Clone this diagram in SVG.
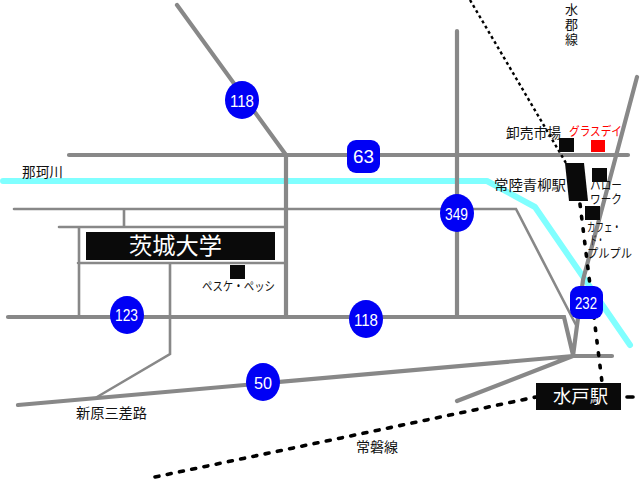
<svg xmlns="http://www.w3.org/2000/svg" width="640" height="479" viewBox="0 0 640 479">
<style>
text{font-family:"Noto Sans CJK JP","Liberation Sans",sans-serif;font-size:14px;fill:#111}
.s{font-size:12.5px}
.n{font-family:"Liberation Sans",sans-serif;fill:#fff;font-size:17px}
.r{fill:none;stroke:#888;stroke-linecap:round;stroke-linejoin:miter}
.w{stroke-width:4.2}.m{stroke-width:2.6}
.b{fill:#0000f5}.k{fill:#0a0a0a}
.t{fill:none;stroke:#000;stroke-width:3.6;stroke-linecap:round}
</style>
<rect width="640" height="479" fill="#fff"/>
<g id="connectors">
<path d="M3 181H487L535 207L630 345" fill="none" stroke="#80ffff" stroke-width="6" stroke-linecap="round" stroke-linejoin="round"/>
<path class="r w" d="M177 5L286 155V316M69 155H628M457 31V316M8 317H564L573 355M18 405L573 356H612M457 401L573 356L583 280L637 77"/>
<path class="r m" d="M14 209H516L576 325M124 209V226M59 227H286M79 228V316M78 263H286M170 263V354L97 397"/>
<path d="M470 0L566 163" fill="none" stroke="#000" stroke-width="2.4" stroke-dasharray="3 3"/>
<path class="t" d="M580 204L602 382" stroke-dasharray="2.5 10"/>
<path class="t" d="M155 477L536 397" stroke-dasharray="4 8.5"/>
<path class="t" d="M627 397H633"/>
</g>
<g id="ibaraki-univ"><rect class="k" x="86" y="232" width="189" height="28"/><text x="129" y="254" textLength="93" lengthAdjust="spacingAndGlyphs" style="font-size:23px;fill:#fff">茨城大学</text></g>
<g id="mito-station"><rect class="k" x="536" y="383" width="85" height="27"/><text x="553" y="403" textLength="55" lengthAdjust="spacingAndGlyphs" style="font-size:18px;fill:#fff">水戸駅</text></g>
<g id="aoyagi-station"><path class="k" d="M565 163H584L588 201H569Z"/><text x="494" y="190" textLength="72" lengthAdjust="spacingAndGlyphs">常陸青柳駅</text></g>
<g id="market"><rect class="k" x="559" y="138" width="15" height="14"/><text x="506" y="138" textLength="55" lengthAdjust="spacingAndGlyphs">卸売市場</text></g>
<g id="grasse-day"><rect x="591" y="140" width="14" height="12" fill="#f00"/><text x="569" y="136" textLength="53" lengthAdjust="spacingAndGlyphs" style="fill:#f00;font-size:12.5px">グラスデイ</text></g>
<g id="hello-work"><rect class="k" x="592" y="168" width="15" height="14"/><text class="s" x="590" y="190" textLength="32" lengthAdjust="spacingAndGlyphs">ハロー</text><text class="s" x="590" y="204" textLength="32" lengthAdjust="spacingAndGlyphs">ワーク</text></g>
<g id="cafe"><rect class="k" x="585" y="206" width="15" height="14"/><text class="s" x="587" y="232" textLength="34" lengthAdjust="spacingAndGlyphs">カフェ・</text><text class="s" x="590" y="245" textLength="14" lengthAdjust="spacingAndGlyphs">ド・</text><text class="s" x="587" y="258" textLength="45" lengthAdjust="spacingAndGlyphs">プルプル</text></g>
<g id="pesuke"><rect class="k" x="230" y="265" width="15" height="14"/><text class="s" x="202" y="291" textLength="73" lengthAdjust="spacingAndGlyphs">ペスケ・ペッシ</text></g>
<g id="r118a"><ellipse class="b" cx="242" cy="100" rx="17" ry="19"/><text class="n" x="230" y="107" textLength="24" lengthAdjust="spacingAndGlyphs">118</text></g>
<g id="r63"><rect class="b" x="347" y="140" width="33" height="33" rx="9"/><text class="n" x="353" y="163" textLength="21" lengthAdjust="spacingAndGlyphs" style="font-size:18px">63</text></g>
<g id="r349"><ellipse class="b" cx="457" cy="213" rx="17" ry="19"/><text class="n" x="445" y="220" textLength="23" lengthAdjust="spacingAndGlyphs">349</text></g>
<g id="r123"><ellipse class="b" cx="127" cy="315" rx="17" ry="19"/><text class="n" x="115" y="321" textLength="23" lengthAdjust="spacingAndGlyphs">123</text></g>
<g id="r118b"><ellipse class="b" cx="366" cy="319" rx="17" ry="19"/><text class="n" x="354" y="326" textLength="24" lengthAdjust="spacingAndGlyphs">118</text></g>
<g id="r50"><ellipse class="b" cx="263" cy="382" rx="17" ry="19"/><text class="n" x="254" y="389" textLength="18" lengthAdjust="spacingAndGlyphs">50</text></g>
<g id="r232"><rect class="b" x="570" y="286" width="33" height="33" rx="9"/><text class="n" x="575" y="309" textLength="22" lengthAdjust="spacingAndGlyphs">232</text></g>
<g id="labels">
<text x="22" y="177" textLength="41" lengthAdjust="spacingAndGlyphs">那珂川</text>
<text x="76" y="418" textLength="71" lengthAdjust="spacingAndGlyphs">新原三差路</text>
<text x="356" y="452" textLength="42" lengthAdjust="spacingAndGlyphs">常磐線</text>
<text x="565" y="14" style="font-size:13px">水</text><text x="565" y="29" style="font-size:13px">郡</text><text x="565" y="44" style="font-size:13px">線</text>
</g>
</svg>
